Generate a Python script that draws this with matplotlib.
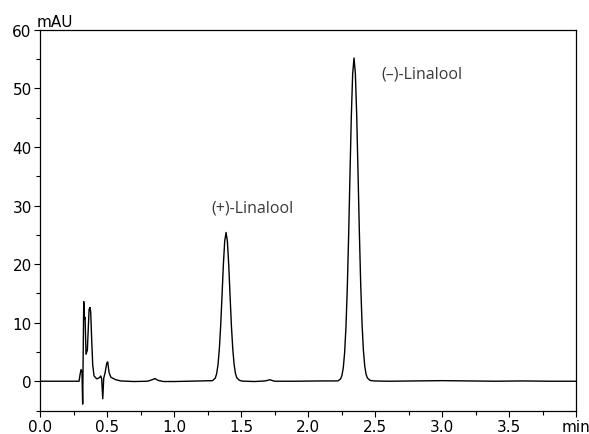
import matplotlib
matplotlib.use("Agg")
import matplotlib.pyplot as plt
from matplotlib.ticker import MultipleLocator, FixedLocator, FixedFormatter

# Chromatogram trace (time in min, signal in mAU)
time_min = [
    0.00, 0.10, 0.20, 0.291, 0.299, 0.306, 0.313, 0.318, 0.326, 0.331, 0.336,
    0.343, 0.353, 0.366, 0.373, 0.378, 0.385, 0.393, 0.403, 0.423, 0.443,
    0.453, 0.460, 0.468, 0.475, 0.485, 0.498, 0.505, 0.515, 0.528, 0.560,
    0.600, 0.700, 0.800, 0.830, 0.858, 0.880, 0.920, 1.000, 1.100, 1.200,
    1.288, 1.308, 1.318, 1.328, 1.338, 1.348, 1.358, 1.368, 1.378, 1.388,
    1.398, 1.408, 1.418, 1.428, 1.438, 1.448, 1.458, 1.468, 1.488, 1.510,
    1.600, 1.680, 1.716, 1.750, 1.900, 2.100, 2.223,
    2.243, 2.253, 2.263, 2.273, 2.283, 2.293, 2.303, 2.313, 2.323, 2.333,
    2.343, 2.353, 2.363, 2.373, 2.383, 2.393, 2.403, 2.413, 2.423, 2.433,
    2.443, 2.463, 2.490, 2.600, 2.800, 3.000, 3.200, 3.400, 3.600, 3.800, 4.000,
]
signal_mau = [
    0.0, 0.0, 0.0, 0.0, 1.2, 2.0, 1.6, -3.9, 13.6, 10.6, 10.9,
    4.6, 5.3, 12.3, 12.6, 11.8, 7.3, 2.8, 0.9, 0.4, 0.6,
    0.9, 0.4, -3.0, 0.5, 1.4, 3.1, 3.3, 1.5, 0.7, 0.3,
    0.05, -0.05, 0.0, 0.2, 0.45, 0.15, -0.05, -0.05, 0.0, 0.05,
    0.1, 0.55, 1.3, 2.8, 5.5, 9.5, 14.6, 19.9, 23.9, 25.4,
    23.9, 19.9, 14.6, 9.5, 5.6, 2.9, 1.35, 0.6, 0.15, 0.02,
    -0.05, 0.05, 0.25, 0.0, 0.0, 0.05, 0.05,
    0.4, 1.0, 2.3, 4.9, 9.3, 16.0, 25.0, 35.3, 45.3, 52.5,
    55.2, 52.6, 45.5, 35.6, 25.4, 16.5, 9.8, 5.3, 2.6, 1.2,
    0.55, 0.15, 0.05, 0.0, 0.05, 0.1, 0.05, 0.0, 0.05, 0.0, 0.0,
]

x_ticks = [0.0, 0.5, 1.0, 1.5, 2.0, 2.5, 3.0, 3.5, 4.0]
x_tick_labels = ["0.0", "0.5", "1.0", "1.5", "2.0", "2.5", "3.0", "3.5", "min"]
y_ticks = [0, 10, 20, 30, 40, 50, 60]

peak_labels = ["(+)-Linalool", "(\u2013)-Linalool"]
peak_label_pos = [(1.586, 29.7), (2.85, 52.6)]

fig = plt.figure(figsize=(5.89, 4.35), dpi=100)
ax = fig.add_axes([0.068, 0.054, 0.910, 0.875])

ax.plot(time_min, signal_mau, color="black", linewidth=1.0)

ax.set_xlim(0, 4.0)
ax.set_ylim(-5, 60)

ax.xaxis.set_major_locator(FixedLocator(x_ticks))
ax.xaxis.set_major_formatter(FixedFormatter(x_tick_labels))
ax.xaxis.set_minor_locator(MultipleLocator(0.25))
ax.yaxis.set_major_locator(FixedLocator(y_ticks))
ax.yaxis.set_minor_locator(MultipleLocator(5))

ax.tick_params(axis="both", which="major", direction="out", length=4,
               width=0.8, labelsize=11, pad=2)
ax.tick_params(axis="both", which="minor", direction="out", length=3, width=0.8)
for s in ax.spines.values():
    s.set_linewidth(0.9)
    s.set_color("black")

ax.text(-0.007, 1.003, "mAU", transform=ax.transAxes, ha="left", va="bottom",
        fontsize=11)

for lab, (tx, ty) in zip(peak_labels, peak_label_pos):
    ax.text(tx, ty, lab, ha="center", va="center", fontsize=11.5,
            family=["Open Sans", "DejaVu Sans"], color="#3a3a3a")

fig.savefig("out.png", dpi=100)
